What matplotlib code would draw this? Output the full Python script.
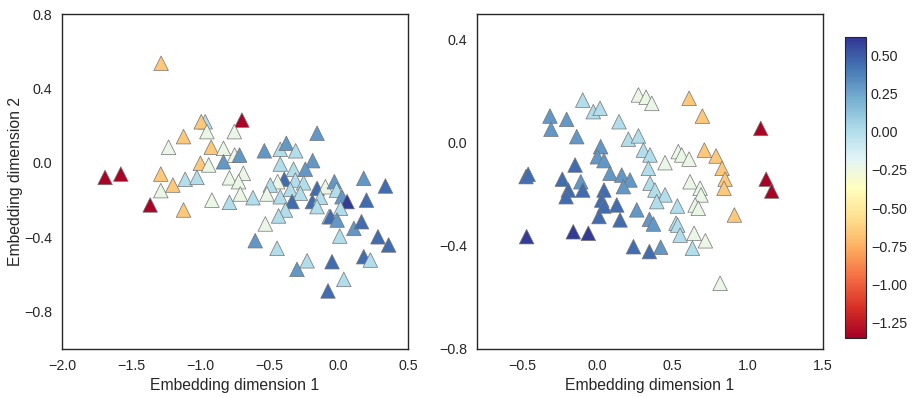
import numpy as np
import matplotlib
matplotlib.use("Agg")
import matplotlib.pyplot as plt
import seaborn as sns

sns.set_style("white")
plt.rcParams['font.family'] = ['Liberation Sans', 'DejaVu Sans']

# colour levels
R, O, P, L, M, D, V = -1.33, -0.65, -0.23, 0.0, 0.3, 0.45, 0.6

# left panel: embedding 1
x1 = [-1.284, -0.965, -0.994, -0.953, -0.70, -0.755, -1.122, -1.23, -0.922, -0.833,
      -0.753, -0.717, -1.0, -0.94, -0.833, -1.689, -1.575, -1.286, -1.11, -1.025,
      -1.199, -1.286, -0.79, -0.69, -0.724, -0.712, -1.363, -1.122, -0.917, -0.79,
      -0.62, -0.157, -0.538, -0.423, -0.379, -0.312, -0.189, -0.423, -0.327, -0.242,
      -0.394, -0.442, -0.495, -0.314, -0.254, -0.519, -0.423, -0.35, -0.278, -0.338,
      -0.386, -0.435, -0.157, -0.097, -0.032, -0.016, -0.191, -0.133, 0.023, 0.06,
      -0.157, 0.012, 0.18, 0.337, 0.2, -0.07, -0.06, -0.012, 0.109, 0.164,
      0.007, 0.283, 0.36, -0.604, -0.446, -0.531, 0.18, 0.228, -0.229, -0.302,
      -0.049, 0.036, -0.078]
y1 = [0.535, 0.221, 0.221, 0.168, 0.23, 0.168, 0.141, 0.084, 0.084, 0.078,
      0.042, 0.042, -0.002, -0.011, 0.006, -0.078, -0.06, -0.06, -0.088, -0.078,
      -0.119, -0.149, -0.08, -0.056, -0.101, -0.167, -0.226, -0.253, -0.2, -0.212,
      -0.187, 0.159, 0.065, 0.073, 0.105, 0.065, 0.012, -0.006, -0.034, -0.034,
      -0.088, -0.101, -0.119, -0.092, -0.107, -0.167, -0.182, -0.142, -0.163, -0.208,
      -0.253, -0.285, -0.137, -0.128, -0.101, -0.146, -0.208, -0.185, -0.182, -0.208,
      -0.235, -0.244, -0.083, -0.124, -0.2, -0.289, -0.289, -0.307, -0.352, -0.316,
      -0.393, -0.397, -0.441, -0.418, -0.459, -0.328, -0.504, -0.522, -0.526, -0.572,
      -0.531, -0.626, -0.688]
c1 = [O, L, O, P, R, P, O, P, O, P,
      P, M, O, P, M, R, R, O, L, L,
      O, P, P, P, P, P, R, O, P, L,
      L, M, M, L, M, L, M, L, L, M,
      D, P, L, L, L, P, L, L, L, D,
      L, L, D, P, M, L, D, L, M, V,
      L, L, M, D, D, L, D, M, M, D,
      L, D, D, M, L, P, D, L, L, M,
      D, L, D]

# right panel: embedding 2
x2 = [-0.097, -0.027, 0.018, 0.273, 0.324, 0.362, -0.315, -0.204, -0.308, 0.144,
      -0.137, 0.206, 0.273, 0.022, 0.0, 0.044, 0.306, 0.35, 0.45, -0.148,
      -0.474, -0.46, 0.084, 0.339, -0.233, -0.11, 0.162, 0.217, 0.173, -0.193,
      -0.208, -0.097, 0.044, 0.35, 0.383, 0.45, 0.029, 0.044, 0.129, 0.262,
      0.395, 0.011, 0.151, 0.346, 0.373, 0.523, -0.47, -0.16, -0.06, 0.24,
      0.421, 0.346, 0.61, 0.698, 1.086, 0.711, 0.789, 0.829, 0.849, 0.842,
      1.122, 1.159, 0.911, 0.538, 0.561, 0.61, 0.616, 0.683, 0.689, 0.65,
      0.671, 0.532, 0.534, 0.55, 0.643, 0.718, 0.632, 0.816]
y2 = [0.166, 0.121, 0.134, 0.186, 0.177, 0.153, 0.104, 0.091, 0.053, 0.082,
      0.024, 0.014, 0.027, -0.015, -0.054, -0.069, -0.028, -0.047, -0.077, -0.086,
      -0.131, -0.122, -0.118, -0.099, -0.141, -0.151, -0.125, -0.144, -0.17, -0.183,
      -0.209, -0.183, -0.183, -0.157, -0.183, -0.202, -0.222, -0.245, -0.241, -0.26,
      -0.228, -0.286, -0.299, -0.297, -0.315, -0.312, -0.364, -0.345, -0.351, -0.403,
      -0.405, -0.422, 0.173, 0.104, 0.056, -0.028, -0.051, -0.099, -0.141, -0.176,
      -0.141, -0.187, -0.28, -0.034, -0.047, -0.063, -0.151, -0.176, -0.202, -0.241,
      -0.254, -0.245, -0.319, -0.358, -0.351, -0.38, -0.409, -0.545]
c2 = [L, L, L, P, P, P, M, M, M, L,
      M, L, L, M, M, M, L, L, P, D,
      D, D, M, L, D, M, M, M, M, D,
      D, D, D, L, L, L, D, D, D, M,
      L, D, D, M, M, L, V, V, V, D,
      M, D, O, O, R, O, O, O, O, O,
      R, R, O, P, P, P, P, P, P, P,
      P, L, L, L, P, P, L, P]

fig = plt.figure(figsize=(9.15, 3.97), dpi=100)
ax1 = fig.add_axes([62/915, 48/397, 346/915, 335/397])
ax2 = fig.add_axes([477/915, 48/397, 346/915, 335/397])
cax = fig.add_axes([845/915, 59/397, 21/915, 301/397])

kw = dict(marker='^', s=110, cmap='RdYlBu', vmin=-1.35, vmax=0.62,
          edgecolors='0.45', linewidths=0.5)
ax1.scatter(x1, y1, c=c1, **kw)
sc = ax2.scatter(x2, y2, c=c2, **kw)

ax1.set_xlim(-2.0, 0.5)
ax1.set_ylim(-1.0, 0.8)
ax1.set_yticks([-0.8, -0.4, 0.0, 0.4, 0.8])
ax1.set_xlabel('Embedding dimension 1', fontsize=11.3, color='0.15')
ax1.set_ylabel('Embedding dimension 2', fontsize=11.3, color='0.15')
ax1.yaxis.set_label_coords(-0.113, 0.5)

ax2.set_xlim(-0.8, 1.5)
ax2.set_ylim(-0.8, 0.5)
ax2.set_xticks([-0.5, 0.0, 0.5, 1.0, 1.5])
ax2.set_yticks([-0.8, -0.4, 0.0, 0.4])
ax2.set_xlabel('Embedding dimension 1', fontsize=11.3, color='0.15')

for ax in (ax1, ax2):
    ax.tick_params(labelsize=10.3, labelcolor='0.15')
    for sp in ax.spines.values():
        sp.set_color('0.15')
        sp.set_linewidth(1.0)

cb = fig.colorbar(sc, cax=cax)
cb.set_ticks([-1.25, -1.0, -0.75, -0.5, -0.25, 0.0, 0.25, 0.5])
cb.ax.tick_params(labelsize=10.3, length=0, labelcolor='0.15')
cb.outline.set_edgecolor('0.15')

plt.savefig('out.png', dpi=100)
